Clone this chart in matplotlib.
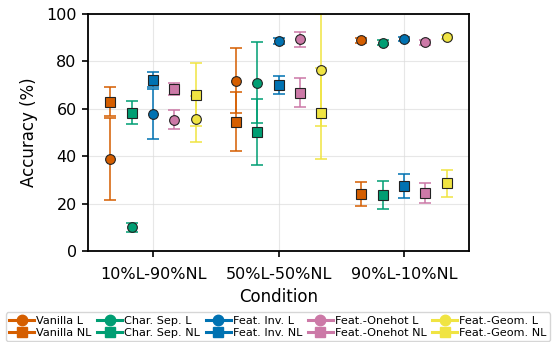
import matplotlib.pyplot as plt
import numpy as np
from matplotlib.lines import Line2D

conditions = ["10%L-90%NL", "50%L-50%NL", "90%L-10%NL"]
methods = ["Vanilla", "Char. Sep.", "Feat. Inv.", "Feat.-Onehot", "Feat.-Geom."]
colors = ["#D55E00", "#009E73", "#0072B2", "#CC79A7", "#F0E442"]

# mean / std per method, one value per condition
l_mean = [[38.9, 71.9, 88.9], [10.0, 71.0, 87.9], [57.8, 88.6, 89.5], [55.4, 89.3, 88.0], [55.6, 76.2, 90.2]]
l_std = [[17.2, 13.8, 1.0], [2.0, 17.0, 1.0], [10.4, 1.2, 1.0], [4.0, 3.3, 1.0], [9.7, 23.6, 0.8]]
nl_mean = [[63.0, 54.6, 24.2], [58.4, 50.3, 23.6], [72.2, 70.0, 27.6], [68.2, 66.8, 24.6], [66.0, 58.1, 28.6]]
nl_std = [[6.0, 12.3, 5.0], [4.8, 14.0, 5.8], [3.2, 3.8, 5.1], [2.5, 6.1, 4.2], [13.2, 19.3, 5.7]]

fig, ax = plt.subplots(figsize=(5.56, 3.42), dpi=100)
fig.subplots_adjust(left=0.158, right=0.844, top=0.959, bottom=0.266)

x = np.arange(len(conditions))
width = 0.17
handles = []
for i, m in enumerate(methods):
    xs = x + (i - 2) * width
    c = colors[i]
    for mean, std, mk in [(l_mean[i], l_std[i], "o"), (nl_mean[i], nl_std[i], "s")]:
        ax.errorbar(xs, mean, yerr=std, fmt="none", ecolor=c, elinewidth=1.3,
                    capsize=4, capthick=1.3, alpha=0.85, zorder=2)
        ax.plot(xs, mean, linestyle="none", marker=mk, markersize=7,
                markerfacecolor=c, markeredgecolor="#222222", markeredgewidth=0.8,
                zorder=3)
    handles.append(Line2D([], [], color=c, marker="o", markersize=7.5, lw=2.2, label=m + " L"))
    handles.append(Line2D([], [], color=c, marker="s", markersize=7.5, lw=2.2, label=m + " NL"))

ax.set_xlim(-0.52, 2.52)
ax.set_ylim(0, 100)
ax.set_xticks(x)
ax.set_xticklabels(conditions)
ax.set_yticks([0, 20, 40, 60, 80, 100])
ax.tick_params(labelsize=11.5, length=4.5, width=1.2)
ax.tick_params(axis="x", pad=7)
ax.grid(True, color="#dddddd", linewidth=0.8, alpha=0.7)
ax.set_axisbelow(True)
for s in ax.spines.values():
    s.set_linewidth(1.3)
ax.set_xlabel("Condition", fontsize=12, labelpad=4)
ax.set_ylabel("Accuracy (%)", fontsize=12, labelpad=6)

fig.legend(handles=handles, loc="lower center", bbox_to_anchor=(0.5, 0.0), ncol=5,
           fontsize=8.1, handlelength=2.2, handletextpad=0.2, columnspacing=0.5,
           borderpad=0.3, labelspacing=0.15, borderaxespad=0.1, frameon=True)

fig.savefig("out.png", dpi=100)
